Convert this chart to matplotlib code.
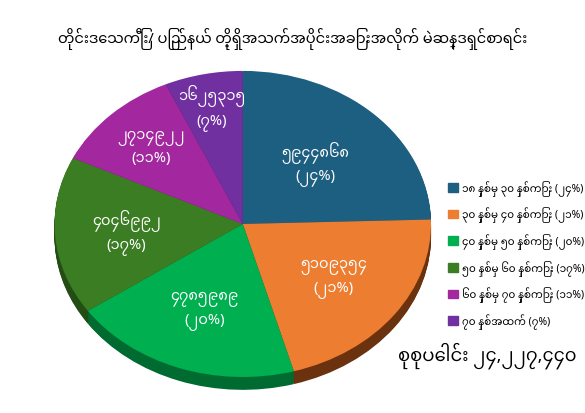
import matplotlib
matplotlib.use("Agg")
import matplotlib.pyplot as plt
from matplotlib.patches import Patch
import numpy as np

plt.rcParams['font.family'] = ['Noto Sans Myanmar', 'Padauk', 'Noto Sans', 'DejaVu Sans']

title = "တိုင်းဒေသကြီး/ ပြည်နယ် တို့ရှိအသက်အပိုင်းအခြားအလိုက် မဲဆန္ဒရှင်စာရင်း"
values = [5944868, 5109354, 4785989, 4046992, 2714922, 1625315]
value_labels = ["၅၉၄၄၈၆၈", "၅၁၀၉၃၅၄", "၄၇၈၅၉၈၉", "၄၀၄၆၉၉၂", "၂၇၁၄၉၂၂", "၁၆၂၅၃၁၅"]
pct_labels = ["(၂၄%)", "(၂၁%)", "(၂၀%)", "(၁၇%)", "(၁၁%)", "(၇%)"]
legend_labels = ["၁၈ နှစ်မှ ၃၀ နှစ်ကြား (၂၄%)", "၃၀ နှစ်မှ ၄၀ နှစ်ကြား (၂၁%)",
                 "၄၀ နှစ်မှ ၅၀ နှစ်ကြား (၂၀%)", "၅၀ နှစ်မှ ၆၀ နှစ်ကြား (၁၇%)",
                 "၆၀ နှစ်မှ ၇၀ နှစ်ကြား (၁၁%)", "၇၀ နှစ်အထက် (၇%)"]
total_label = "စုစုပေါင်း ၂၄,၂၂၇,၄၄၀"
colors = ["#1d5f80", "#ed7d31", "#00b050", "#3b7d23", "#a3289f", "#7030a0"]
dark = ["#123c52", "#6b3210", "#006b30", "#244c15", "#601860", "#451d63"]
label_r = [0.55, 0.6, 0.6, 0.62, 0.7, 0.78]

fig = plt.figure(figsize=(5.85, 4.14), dpi=100)
fig.patch.set_facecolor("white")
ax = fig.add_axes([0.09, 0.05, 0.65, 0.78])
for k in range(14, 0, -1):
    ax.pie(values, colors=dark, startangle=90, counterclock=False, radius=1,
           center=(0, -k * 0.006), wedgeprops=dict(linewidth=0))
wedges, _ = ax.pie(values, colors=colors, startangle=90, counterclock=False, radius=1,
                   wedgeprops=dict(linewidth=0))
for w, v, p, r in zip(wedges, value_labels, pct_labels, label_r):
    ang = np.deg2rad((w.theta1 + w.theta2) / 2)
    x, y = r * np.cos(ang), r * np.sin(ang)
    ax.text(x, y, v + "\n" + p, ha='center', va='center', color='white', fontsize=10.5,
            fontweight='bold', linespacing=1.5)
ax.set_aspect('auto')
ax.set_xlim(-1.01, 1.01)
ax.set_ylim(-1.1, 1.01)
ax.axis('off')

fig.text(0.5, 0.905, title, ha='center', va='center', fontsize=10.5)
handles = [Patch(color=c) for c in colors]
fig.legend(handles, legend_labels, loc='upper left', bbox_to_anchor=(0.75, 0.585),
           frameon=False, fontsize=7.5, handlelength=0.9, handleheight=0.9,
           labelspacing=1.05, handletextpad=0.4)
fig.text(0.985, 0.14, total_label, ha='right', va='center', fontsize=13, fontweight='bold')
fig.savefig("out.png", dpi=100)
